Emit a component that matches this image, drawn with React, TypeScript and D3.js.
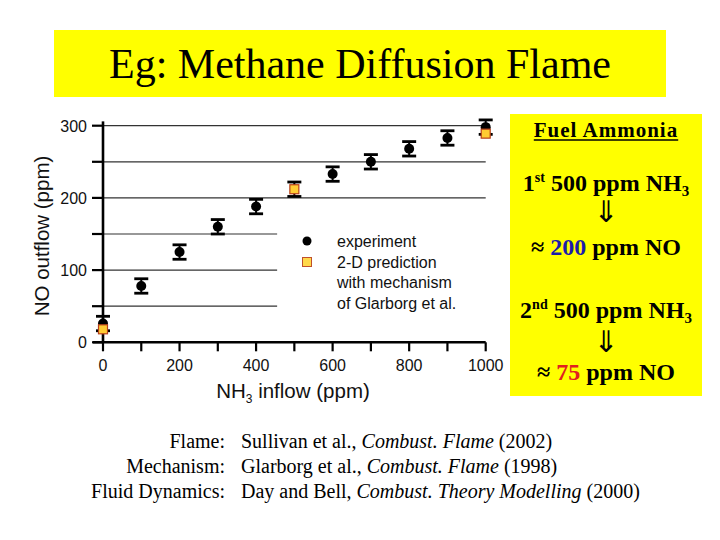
import React, { useEffect, useRef } from "react";
import * as d3 from "d3";

// NH3 inflow (ppm) vs NO outflow (ppm)
const expX = [0, 100, 200, 300, 400, 600, 700, 800, 900, 1000];
const expY = [26, 78, 125, 160, 188, 233, 250, 268, 283, 298];
const expErr = [10, 10, 10, 10, 10, 10, 10, 10, 10, 10];

const predX = [0, 500, 1000];
const predY = [18, 212, 289];
const predErr = [0, 10, 0];

const xTicks = [0, 100, 200, 300, 400, 500, 600, 700, 800, 900, 1000];
const xLabels = [0, 200, 400, 600, 800, 1000];
const yTicks = [0, 50, 100, 150, 200, 250, 300];
const yLabels = [0, 100, 200, 300];
const shortGrid = [50, 100, 150];
const longGrid = [200, 250, 300];

const legendItems = ["experiment", "2-D prediction", "with mechanism", "of Glarborg et al."];

const refLabels = ["Flame:", "Mechanism:", "Fluid Dynamics:"];
const refAuthors = ["Sullivan et al., ", "Glarborg et al., ", "Day and Bell, "];
const refJournals = ["Combust. Flame", "Combust. Flame", "Combust. Theory Modelling"];
const refYears = [" (2002)", " (1998)", " (2000)"];

const App = () => {
  const svgRef = useRef<SVGSVGElement>(null);

  useEffect(() => {
    const svg = d3.select(svgRef.current);
    svg.selectAll("*").remove();

    const serif = "'Liberation Serif', 'Times New Roman', serif";
    const sans = "'Liberation Sans', Arial, Helvetica, sans-serif";

    // Title box
    svg.append("rect")
      .attr("x", 54).attr("y", 30).attr("width", 612).attr("height", 67)
      .attr("fill", "#ffff00");
    svg.append("text")
      .attr("x", 360).attr("y", 78)
      .attr("text-anchor", "middle")
      .style("font-family", serif)
      .style("font-size", "42px")
      .text("Eg: Methane Diffusion Flame");

    // Scales
    const x = d3.scaleLinear().domain([0, 1000]).range([103, 485.7]);
    const y = d3.scaleLinear().domain([0, 300]).range([342.3, 125.7]);

    // Grid lines
    svg.selectAll(".gshort")
      .data(shortGrid)
      .join("line")
      .attr("x1", x(0)).attr("x2", x(455))
      .attr("y1", d => y(d)).attr("y2", d => y(d))
      .attr("stroke", "#333").attr("stroke-width", 1.2);
    svg.selectAll(".glong")
      .data(longGrid)
      .join("line")
      .attr("x1", x(0)).attr("x2", x(1000))
      .attr("y1", d => y(d)).attr("y2", d => y(d))
      .attr("stroke", "#333").attr("stroke-width", 1.2);

    // Axes
    const axes = svg.append("g").attr("stroke", "#000");
    axes.append("line")
      .attr("x1", x(0)).attr("x2", x(0))
      .attr("y1", y(306)).attr("y2", y(0))
      .attr("stroke-width", 2.6);
    axes.append("line")
      .attr("x1", x(0) - 10).attr("x2", x(1000))
      .attr("y1", y(0)).attr("y2", y(0))
      .attr("stroke-width", 2.6);
    yTicks.forEach(t => {
      axes.append("line")
        .attr("x1", x(0) - 11).attr("x2", x(0))
        .attr("y1", y(t)).attr("y2", y(t))
        .attr("stroke-width", 2.2);
    });
    xTicks.forEach(t => {
      axes.append("line")
        .attr("x1", x(t)).attr("x2", x(t))
        .attr("y1", y(0)).attr("y2", y(0) + 9)
        .attr("stroke-width", 2.2);
    });

    yLabels.forEach(t => {
      svg.append("text")
        .attr("x", 87).attr("y", y(t) + 6)
        .attr("text-anchor", "end")
        .style("font-family", sans).style("font-size", "16px")
        .attr("fill", "#111")
        .text(t);
    });
    xLabels.forEach(t => {
      svg.append("text")
        .attr("x", x(t)).attr("y", 371)
        .attr("text-anchor", "middle")
        .style("font-family", sans).style("font-size", "16px")
        .attr("fill", "#111")
        .text(t);
    });

    // Axis labels
    svg.append("text")
      .attr("transform", "rotate(-90)")
      .attr("x", -236).attr("y", 49)
      .attr("text-anchor", "middle")
      .style("font-family", sans).style("font-size", "20.5px")
      .attr("fill", "#111")
      .text("NO outflow (ppm)");

    const xl = svg.append("text")
      .attr("x", 293).attr("y", 398)
      .attr("text-anchor", "middle")
      .style("font-family", sans).style("font-size", "20.5px")
      .attr("fill", "#111");
    xl.append("tspan").text("NH");
    xl.append("tspan").attr("dy", 5).style("font-size", "12px").text("3");
    xl.append("tspan").attr("dy", -5).text(" inflow (ppm)");

    // Error bars
    const errBar = (cx: number, v: number, e: number) => {
      if (!e) return;
      const g = svg.append("g").attr("stroke", "#000");
      g.append("line")
        .attr("x1", x(cx)).attr("x2", x(cx))
        .attr("y1", y(v - e)).attr("y2", y(v + e))
        .attr("stroke-width", 2);
      [v - e, v + e].forEach(c => {
        g.append("line")
          .attr("x1", x(cx) - 7).attr("x2", x(cx) + 7)
          .attr("y1", y(c)).attr("y2", y(c))
          .attr("stroke-width", 2.8);
      });
    };
    expX.forEach((d, i) => errBar(d, expY[i], expErr[i]));
    predX.forEach((d, i) => errBar(d, predY[i], predErr[i]));

    // Experiment points
    svg.selectAll(".exp")
      .data(expX)
      .join("circle")
      .attr("cx", d => x(d))
      .attr("cy", (d, i) => y(expY[i]))
      .attr("r", 5)
      .attr("fill", "#000");

    // Prediction points
    svg.selectAll(".pred")
      .data(predX)
      .join("rect")
      .attr("x", d => x(d) - 4.5)
      .attr("y", (d, i) => y(predY[i]) - 4.5)
      .attr("width", 9).attr("height", 9)
      .attr("fill", "#ffcc33")
      .attr("stroke", "#b8401a").attr("stroke-width", 1.2);

    // Legend
    const legend = svg.append("g");
    legend.append("circle").attr("cx", 307).attr("cy", 241).attr("r", 4.5).attr("fill", "#000");
    legend.append("rect")
      .attr("x", 302.5).attr("y", 257.5).attr("width", 9).attr("height", 9)
      .attr("fill", "#ffd84a").attr("stroke", "#c0502a").attr("stroke-width", 1);
    legendItems.forEach((t, i) => {
      legend.append("text")
        .attr("x", 337).attr("y", 247 + i * 20.7)
        .style("font-family", sans).style("font-size", "16px")
        .attr("fill", "#111")
        .text(t);
    });

    // Right yellow box
    const box = svg.append("g").style("font-family", serif).style("font-weight", "bold");
    box.append("rect")
      .attr("x", 510).attr("y", 114).attr("width", 192).attr("height", 282)
      .attr("fill", "#ffff00");
    const cx = 606;
    const title = box.append("text")
      .attr("x", cx).attr("y", 137)
      .attr("text-anchor", "middle")
      .style("font-size", "21px")
      .style("letter-spacing", "1px")
      .text("Fuel Ammonia");
    const tw = (title.node() as SVGTextElement).getComputedTextLength();
    box.append("line")
      .attr("x1", cx - tw / 2).attr("x2", cx + tw / 2)
      .attr("y1", 140).attr("y2", 140)
      .attr("stroke", "#000").attr("stroke-width", 1.5);

    const nh3Line = (yy: number, ord: string, sup: string) => {
      const t = box.append("text")
        .attr("x", cx).attr("y", yy)
        .attr("text-anchor", "middle")
        .style("font-size", "24px");
      t.append("tspan").text(ord);
      t.append("tspan").attr("dy", -9).style("font-size", "14px").text(sup);
      t.append("tspan").attr("dy", 9).text(" 500 ppm NH");
      t.append("tspan").attr("dy", 5).style("font-size", "15px").text("3");
    };
    const noLine = (yy: number, val: string, color: string) => {
      const t = box.append("text")
        .attr("x", cx).attr("y", yy)
        .attr("text-anchor", "middle")
        .style("font-size", "24px");
      t.append("tspan").text("≈ ");
      t.append("tspan").attr("fill", color).text(val);
      t.append("tspan").text(" ppm NO");
    };
    const arrow = (yy: number) => {
      box.append("text")
        .attr("x", cx).attr("y", yy)
        .attr("text-anchor", "middle")
        .style("font-family", "'DejaVu Sans', sans-serif")
        .style("font-weight", "normal")
        .style("font-size", "30px")
        .text("⇓");
    };
    nh3Line(191, "1", "st");
    arrow(222);
    noLine(255, "200", "#1c1ca8");
    nh3Line(318, "2", "nd");
    arrow(352);
    noLine(380, "75", "#e02020");

    // References
    refLabels.forEach((lab, i) => {
      const yy = 448 + i * 25;
      svg.append("text")
        .attr("x", 225).attr("y", yy)
        .attr("text-anchor", "end")
        .style("font-family", serif).style("font-size", "20px")
        .text(lab);
      const t = svg.append("text")
        .attr("x", 241).attr("y", yy)
        .style("font-family", serif).style("font-size", "20px");
      t.append("tspan").text(refAuthors[i]);
      t.append("tspan").style("font-style", "italic").text(refJournals[i]);
      t.append("tspan").text(refYears[i]);
    });
  }, []);

  return (
    <div style={{ position: "absolute", left: 0, top: 0 }}>
      <svg ref={svgRef} width={720} height={540} style={{ display: "block", background: "#fff" }}></svg>
    </div>
  );
};

export default App;
